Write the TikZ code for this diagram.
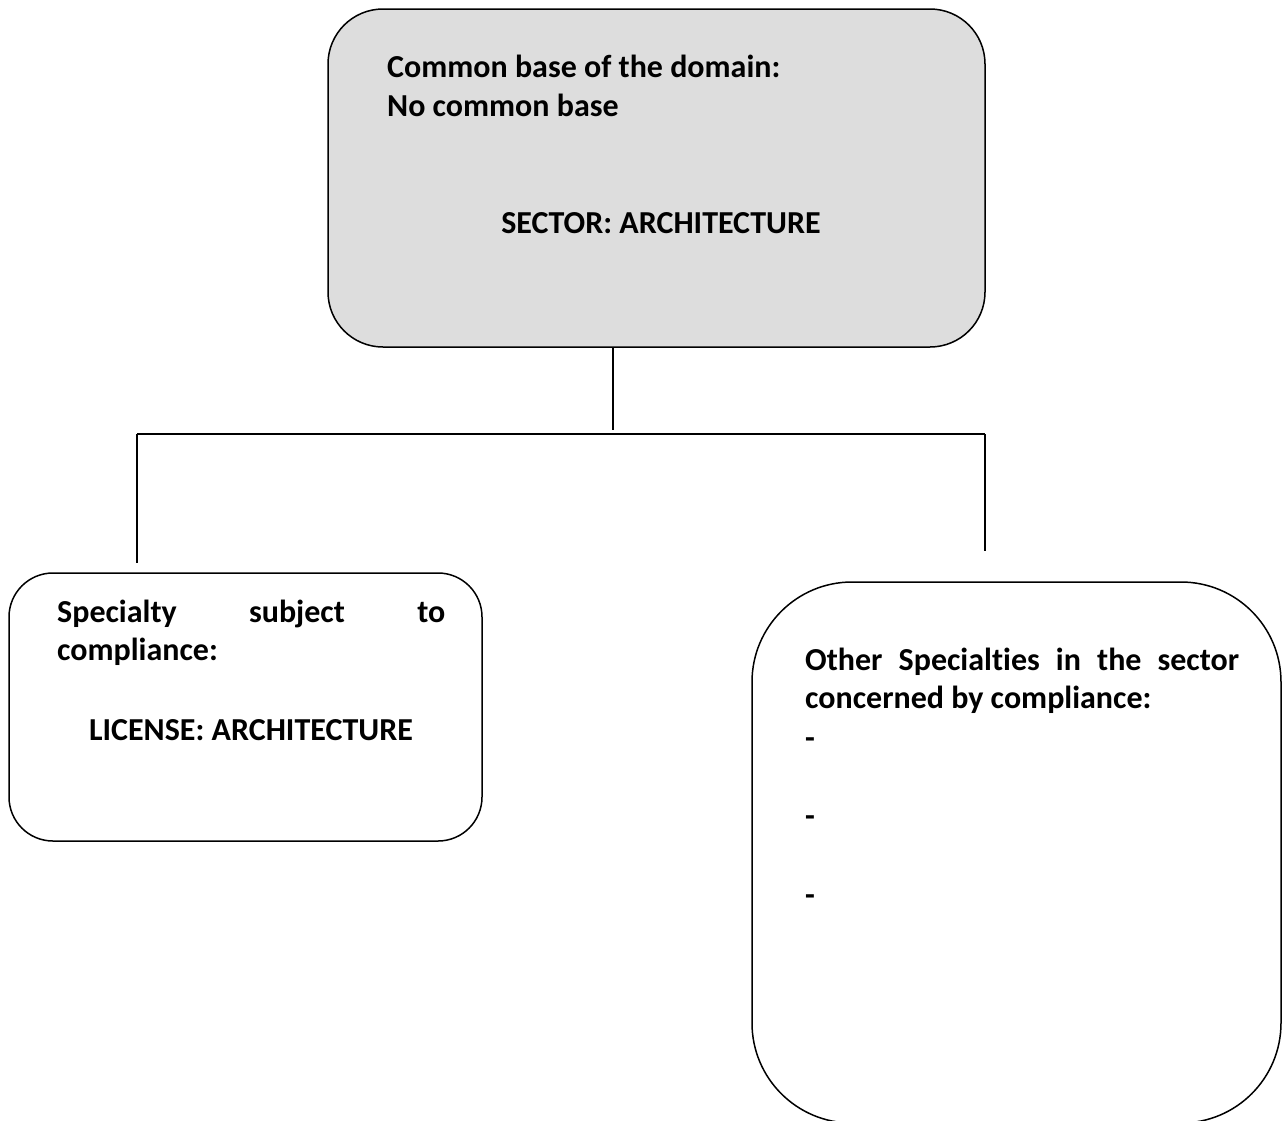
\documentclass[tikz,border=0pt]{standalone}
\usepackage{fontspec}
\setmainfont{Carlito}[Ligatures=NoCommon]
\definecolor{boxgray}{RGB}{221,221,221}
\begin{document}
\begin{tikzpicture}[x=1pt,y=-1pt,
  box/.style={draw=black,line width=1.5pt,rounded corners=#1,inner sep=0pt},
  link/.style={draw=black,line width=1.2pt},
  txt/.style={inner sep=0pt,font=\fontsize{32}{39}\selectfont\bfseries}]
\useasboundingbox (0,0) rectangle (1282,1120);
% boxes
\node[box=55pt,fill=boxgray,minimum width=657pt,minimum height=338pt] (top) at (656.5,178) {};
\node[box=44pt,fill=white,minimum width=473pt,minimum height=268pt] (left) at (245.5,707) {};
\node[box=100pt,fill=white,minimum width=529pt,minimum height=541pt] (right) at (1016.5,852.5) {};
% texts
\node[txt,anchor=base west] (t1) at (387,77) {Common base of the domain:};
\node[txt,anchor=base west] (t2) at (387,116) {No common base};
\node[txt,anchor=base] (t3) at (661,233) {SECTOR: ARCHITECTURE};
\node[txt,anchor=base west] (l1) at (57,622) {\hbox to 388pt{Specialty\hfill subject\hfill to}};
\node[txt,anchor=base west] (l2) at (57,660) {compliance:};
\node[txt,anchor=base] (l3) at (251,740) {LICENSE: ARCHITECTURE};
\node[txt,anchor=base west] (r1) at (805,670) {\hbox to 434pt{Other\hfill Specialties\hfill in\hfill the\hfill sector}};
\node[txt,anchor=base west] (r2) at (805,708) {concerned by compliance:};
\node[txt,anchor=base west] (r3) at (805,748) {-};
\node[txt,anchor=base west] (r4) at (805,826) {-};
\node[txt,anchor=base west] (r5) at (805,905) {-};
% connectors
\coordinate (jt) at (613,430);
\coordinate (hl) at (137,434);
\coordinate (hr) at (985,434);
\coordinate (el) at (137,563);
\coordinate (er) at (985,551);
\draw[link] (jt |- top.south) -- (jt);
\draw[link] (hl) -- (hr);
\draw[link] (hl) -- (el);
\draw[link] (hr) -- (er);
\end{tikzpicture}
\end{document}
